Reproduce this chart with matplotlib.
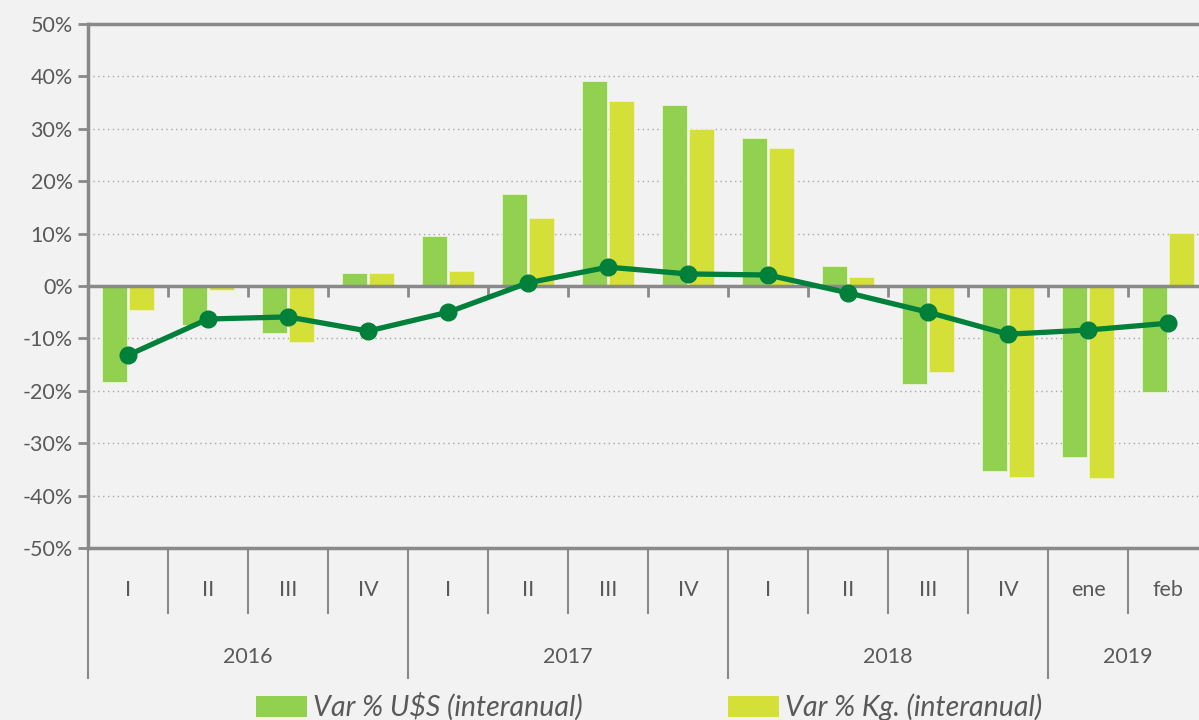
import numpy as np
import matplotlib
matplotlib.use('Agg')
import matplotlib.pyplot as plt
from matplotlib.patches import Patch
from matplotlib.lines import Line2D

plt.rcParams['font.family'] = ['Lato', 'DejaVu Sans']

# data
quarters = ['I', 'II', 'III', 'IV', 'I', 'II', 'III', 'IV', 'I', 'II', 'III', 'IV', 'ene', 'feb']
years = ['2016', '2017', '2018', '2019']
year_spans = [(0, 4), (4, 8), (8, 12), (12, 14)]
usd = [-18.3, -7.5, -9.0, 2.4, 9.5, 17.5, 39.1, 34.5, 28.2, 3.8, -18.7, -35.3, -32.6, -20.2]
kg = [-4.6, -0.7, -10.6, 2.5, 2.9, 13.0, 35.3, 30.0, 26.3, 1.8, -16.5, -36.5, -36.6, 10.1]
line_vals = [-13.2, -6.3, -5.9, -8.6, -5.0, 0.6, 3.6, 2.3, 2.1, -1.3, -5.0, -9.2, -8.4, -7.1]

bg = '#F2F2F2'
c_usd = '#92D050'
c_kg = '#D4DF38'
c_line = '#00803A'
c_axis = '#898989'
c_text = '#595959'

fig = plt.figure(figsize=(11.99, 7.2), dpi=100, facecolor=bg)
W, H = 1199, 720
ax = fig.add_axes([88 / W, 172 / H, (1208 - 88) / W, 524 / H])
ax.set_facecolor(bg)

x = np.arange(len(quarters))
bw = 0.31
ax.bar(x - 0.17, usd, bw, color=c_usd, edgecolor='#E8F5D8', linewidth=0.6, zorder=2)
ax.bar(x + 0.17, kg, bw, color=c_kg, edgecolor='#F0F3C8', linewidth=0.6, zorder=2)
ax.plot(x, line_vals, color=c_line, lw=3.8, marker='o', ms=12, zorder=4)

ax.set_xlim(-0.5, len(quarters) - 0.5)
ax.set_ylim(-50, 50)
yt = np.arange(-50, 51, 10)
ax.set_yticks(yt)
ax.set_yticklabels([f'{v}%' for v in yt], fontsize=15.5, color=c_text)
ax.tick_params(axis='y', length=7, width=2, color=c_axis, pad=4)
for v in yt:
    if v not in (-50, 0, 50):
        ax.axhline(v, color='#A6A6A6', lw=1, ls=(0, (1, 2.5)), zorder=1)

# category axis at zero with tick marks between categories
ax.spines['bottom'].set_position(('data', 0))
ax.spines['bottom'].set_color(c_axis)
ax.spines['bottom'].set_linewidth(2.5)
ax.spines['bottom'].set_zorder(3)
ax.set_xticks(np.arange(len(quarters) + 1) - 0.5)
ax.set_xticklabels([])
ax.tick_params(axis='x', length=8, width=2, color=c_axis, direction='out')
ax.spines['left'].set_color(c_axis)
ax.spines['left'].set_linewidth(2.5)
ax.spines['top'].set_color(c_axis)
ax.spines['top'].set_linewidth(2.5)
ax.spines['right'].set_visible(False)
ax.axhline(-50, color=c_axis, lw=2.5, clip_on=False, zorder=3)

# multi-level category labels below the plot
tr = ax.get_xaxis_transform()
y_q = -65 / 524
y_y = -130 / 524
for i, q in enumerate(quarters):
    ax.text(i, -42 / 524, q, transform=tr, ha='center', va='center', fontsize=15.5, color=c_text)
for i in range(1, len(quarters)):
    if i % 4 != 0:
        ax.add_line(Line2D([i - 0.5, i - 0.5], [0, y_q], transform=tr, color=c_axis, lw=1.5, clip_on=False))
for name, (a, b) in zip(years, year_spans):
    ax.text((a + b - 1) / 2, -109 / 524, name, transform=tr, ha='center', va='center', fontsize=15.5, color=c_text)
    ax.add_line(Line2D([a - 0.5, a - 0.5], [0, y_y], transform=tr, color=c_axis, lw=1.5, clip_on=False))

handles = [Patch(facecolor=c_usd, label='Var % U$S (interanual)'),
           Patch(facecolor=c_kg, label='Var % Kg. (interanual)')]
leg = fig.legend(handles=handles, loc='center left', bbox_to_anchor=(256 / W, 13 / H), ncol=2,
                 frameon=False, handlelength=1.8, handleheight=0.74,
                 handletextpad=0.2, columnspacing=5.1, borderpad=0, borderaxespad=0,
                 prop={'style': 'italic', 'size': 20.5})
for t in leg.get_texts():
    t.set_color(c_text)

fig.savefig('out.png', dpi=100, facecolor=bg)
